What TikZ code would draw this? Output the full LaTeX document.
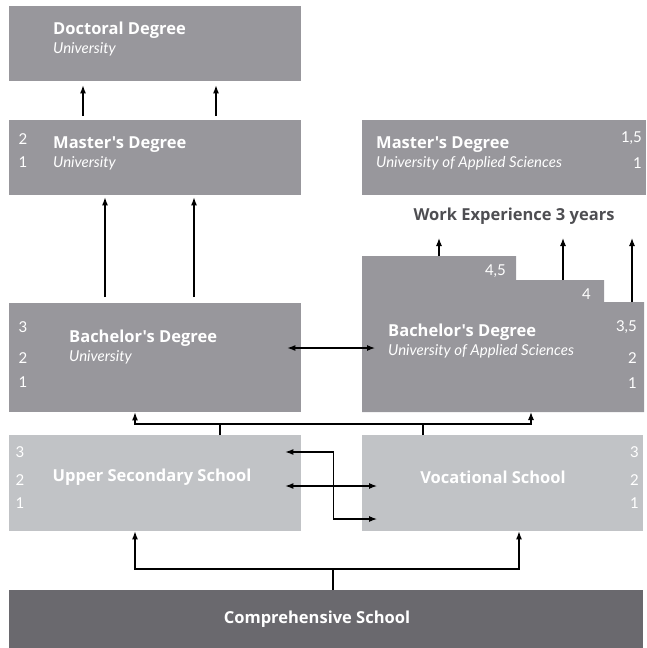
\documentclass[tikz,border=0pt]{standalone}
\usepackage{fontspec}
\setmainfont{Lato}
\newfontfamily\headfont{Open Sans}
\usetikzlibrary{arrows.meta}
\definecolor{degreegray}{RGB}{152,151,156}
\definecolor{schoolgray}{RGB}{193,195,198}
\definecolor{basegray}{RGB}{106,105,110}
\definecolor{notegray}{RGB}{78,78,82}

\begin{document}
\begin{tikzpicture}[x=1pt, y=-1pt,
    box/.style={rectangle, inner sep=0pt, anchor=north west},
    head/.style={text=white, font=\fontsize{16.5}{18}\selectfont\headfont\bfseries, inner sep=0pt},
    title/.style={head, anchor=base west},
    sub/.style={text=white, font=\fontsize{15}{17}\selectfont\itshape, anchor=base west, inner sep=0pt},
    yr/.style={text=white, font=\fontsize{15}{17}\selectfont, inner sep=0pt},
    wire/.style={line width=1.1pt},
    link/.style={line width=1.1pt, -{Latex[length=8pt,width=6pt]}},
    both/.style={line width=1.1pt, {Latex[length=8pt,width=6pt]}-{Latex[length=8pt,width=6pt]}}]

    \useasboundingbox (0,0) rectangle (646,648);

    % boxes
    \node[box, fill=degreegray, minimum width=292pt, minimum height=75pt] (doc) at (9,6) {};
    \node[box, fill=degreegray, minimum width=292pt, minimum height=75pt] (mu) at (9,120) {};
    \node[box, fill=degreegray, minimum width=284pt, minimum height=75pt] (mas) at (362,120) {};
    \node[box, fill=degreegray, minimum width=292pt, minimum height=109pt] (bu) at (9,303) {};
    \node[box, fill=schoolgray, minimum width=292pt, minimum height=96pt] (us) at (9,435) {};
    \node[box, fill=schoolgray, minimum width=281pt, minimum height=96pt] (vs) at (362,435) {};
    \node[box, fill=basegray, minimum width=634pt, minimum height=58pt] (cs) at (9,590) {};

    % stepped bachelor box (applied sciences)
    \coordinate (st1) at (362,256);
    \coordinate (st2) at (516,280);
    \coordinate (st3) at (604,302);
    \coordinate (ste) at (644,412);
    \fill[degreegray] (st1) -| (st2) -| (st3) -| (ste) -| cycle;

    % texts
    \node[title] (doct) at (53,34) {Doctoral Degree};
    \node[sub] (docs) at (53,53) {University};

    \node[title] (mut) at (53,148) {Master's Degree};
    \node[sub] (mus) at (53,167) {University};
    \node[yr] (mu2) at (23,139) {2};
    \node[yr] (mu1) at (23,162) {1};

    \node[title] (mast) at (376,148) {Master's Degree};
    \node[sub] (mass) at (376,167) {University of Applied Sciences};
    \node[yr, anchor=east] (mas15) at (642,138) {1,5};
    \node[yr, anchor=east] (mas1) at (642,163) {1};

    \node[head, text=notegray] (we) at (514,216) {Work Experience 3 years};

    \node[title] (but) at (69,342) {Bachelor's Degree};
    \node[sub] (bus) at (69,361) {University};
    \node[yr] (bu3) at (23,327) {3};
    \node[yr] (bu2) at (23,358) {2};
    \node[yr] (bu1) at (23,382) {1};

    \node[title] (bast) at (388,336) {Bachelor's Degree};
    \node[sub] (bass) at (388,355) {University of Applied Sciences};
    \node[yr, anchor=east] (ba45) at (506,271) {4,5};
    \node[yr, anchor=east] (ba4) at (591,294) {4};
    \node[yr, anchor=east] (ba35) at (637,327) {3,5};
    \node[yr, anchor=east] (ba2) at (637,358) {2};
    \node[yr, anchor=east] (ba1) at (637,383) {1};

    \node[head] (ust) at (152,477) {Upper Secondary School};
    \node[yr] (us3) at (20,452) {3};
    \node[yr] (us2) at (20,480) {2};
    \node[yr] (us1) at (20,503) {1};

    \node[head] (vst) at (493,477) {Vocational School};
    \node[yr, anchor=east] (vs3) at (639,452) {3};
    \node[yr, anchor=east] (vs2) at (639,480) {2};
    \node[yr, anchor=east] (vs1) at (639,503) {1};

    \node[head] (cst) at (317,619) {Comprehensive School};

    % connectors
    \draw[link] ([xshift=74pt,yshift=4pt]mu.north west) -- ([xshift=74pt,yshift=-4pt]doc.south west);
    \draw[link] ([xshift=207pt,yshift=4pt]mu.north west) -- ([xshift=207pt,yshift=-4pt]doc.south west);

    \draw[link] ([xshift=96pt,yshift=6pt]bu.north west) -- ([xshift=96pt,yshift=-2pt]mu.south west);
    \draw[link] ([xshift=185pt,yshift=6pt]bu.north west) -- ([xshift=185pt,yshift=-2pt]mu.south west);

    \draw[link] ([xshift=77pt]st1) -- ++(0,-18);
    \draw[link] ([xshift=47pt]st2) -- ++(0,-42);
    \draw[link] ([xshift=28pt]st3) -- ++(0,-64);

    \draw[both] ([xshift=-14pt,yshift=-45pt]bu.north east) -- ([xshift=13pt,yshift=-92pt]st1);

    \draw[wire] ([xshift=211pt]us.north west) -- ++(0,-11);
    \draw[wire] ([xshift=61pt]vs.north west) -- ++(0,-11);
    \draw[link] ([xshift=522pt,yshift=11pt]us.north west) -| ([xshift=126pt]bu.south west);
    \draw[link] ([xshift=126pt,yshift=11pt]us.north west) -| ([xshift=-113pt]ste);

    \draw[both] ([xshift=-16pt,yshift=-17pt]us.north east) -- ([xshift=32pt,yshift=-17pt]us.north east) |- ([xshift=15pt,yshift=-84pt]vs.north west);
    \draw[both] ([xshift=-16pt,yshift=-51pt]us.north east) -- ([xshift=15pt,yshift=-51pt]vs.north west);

    \draw[wire] ([xshift=324pt]cs.north west) -- ++(0,-21);
    \draw[link] ([xshift=510pt,yshift=21pt]cs.north west) -| ([xshift=126pt]us.south west);
    \draw[link] ([xshift=126pt,yshift=21pt]cs.north west) -| ([xshift=157pt]vs.south west);

\end{tikzpicture}
\end{document}
